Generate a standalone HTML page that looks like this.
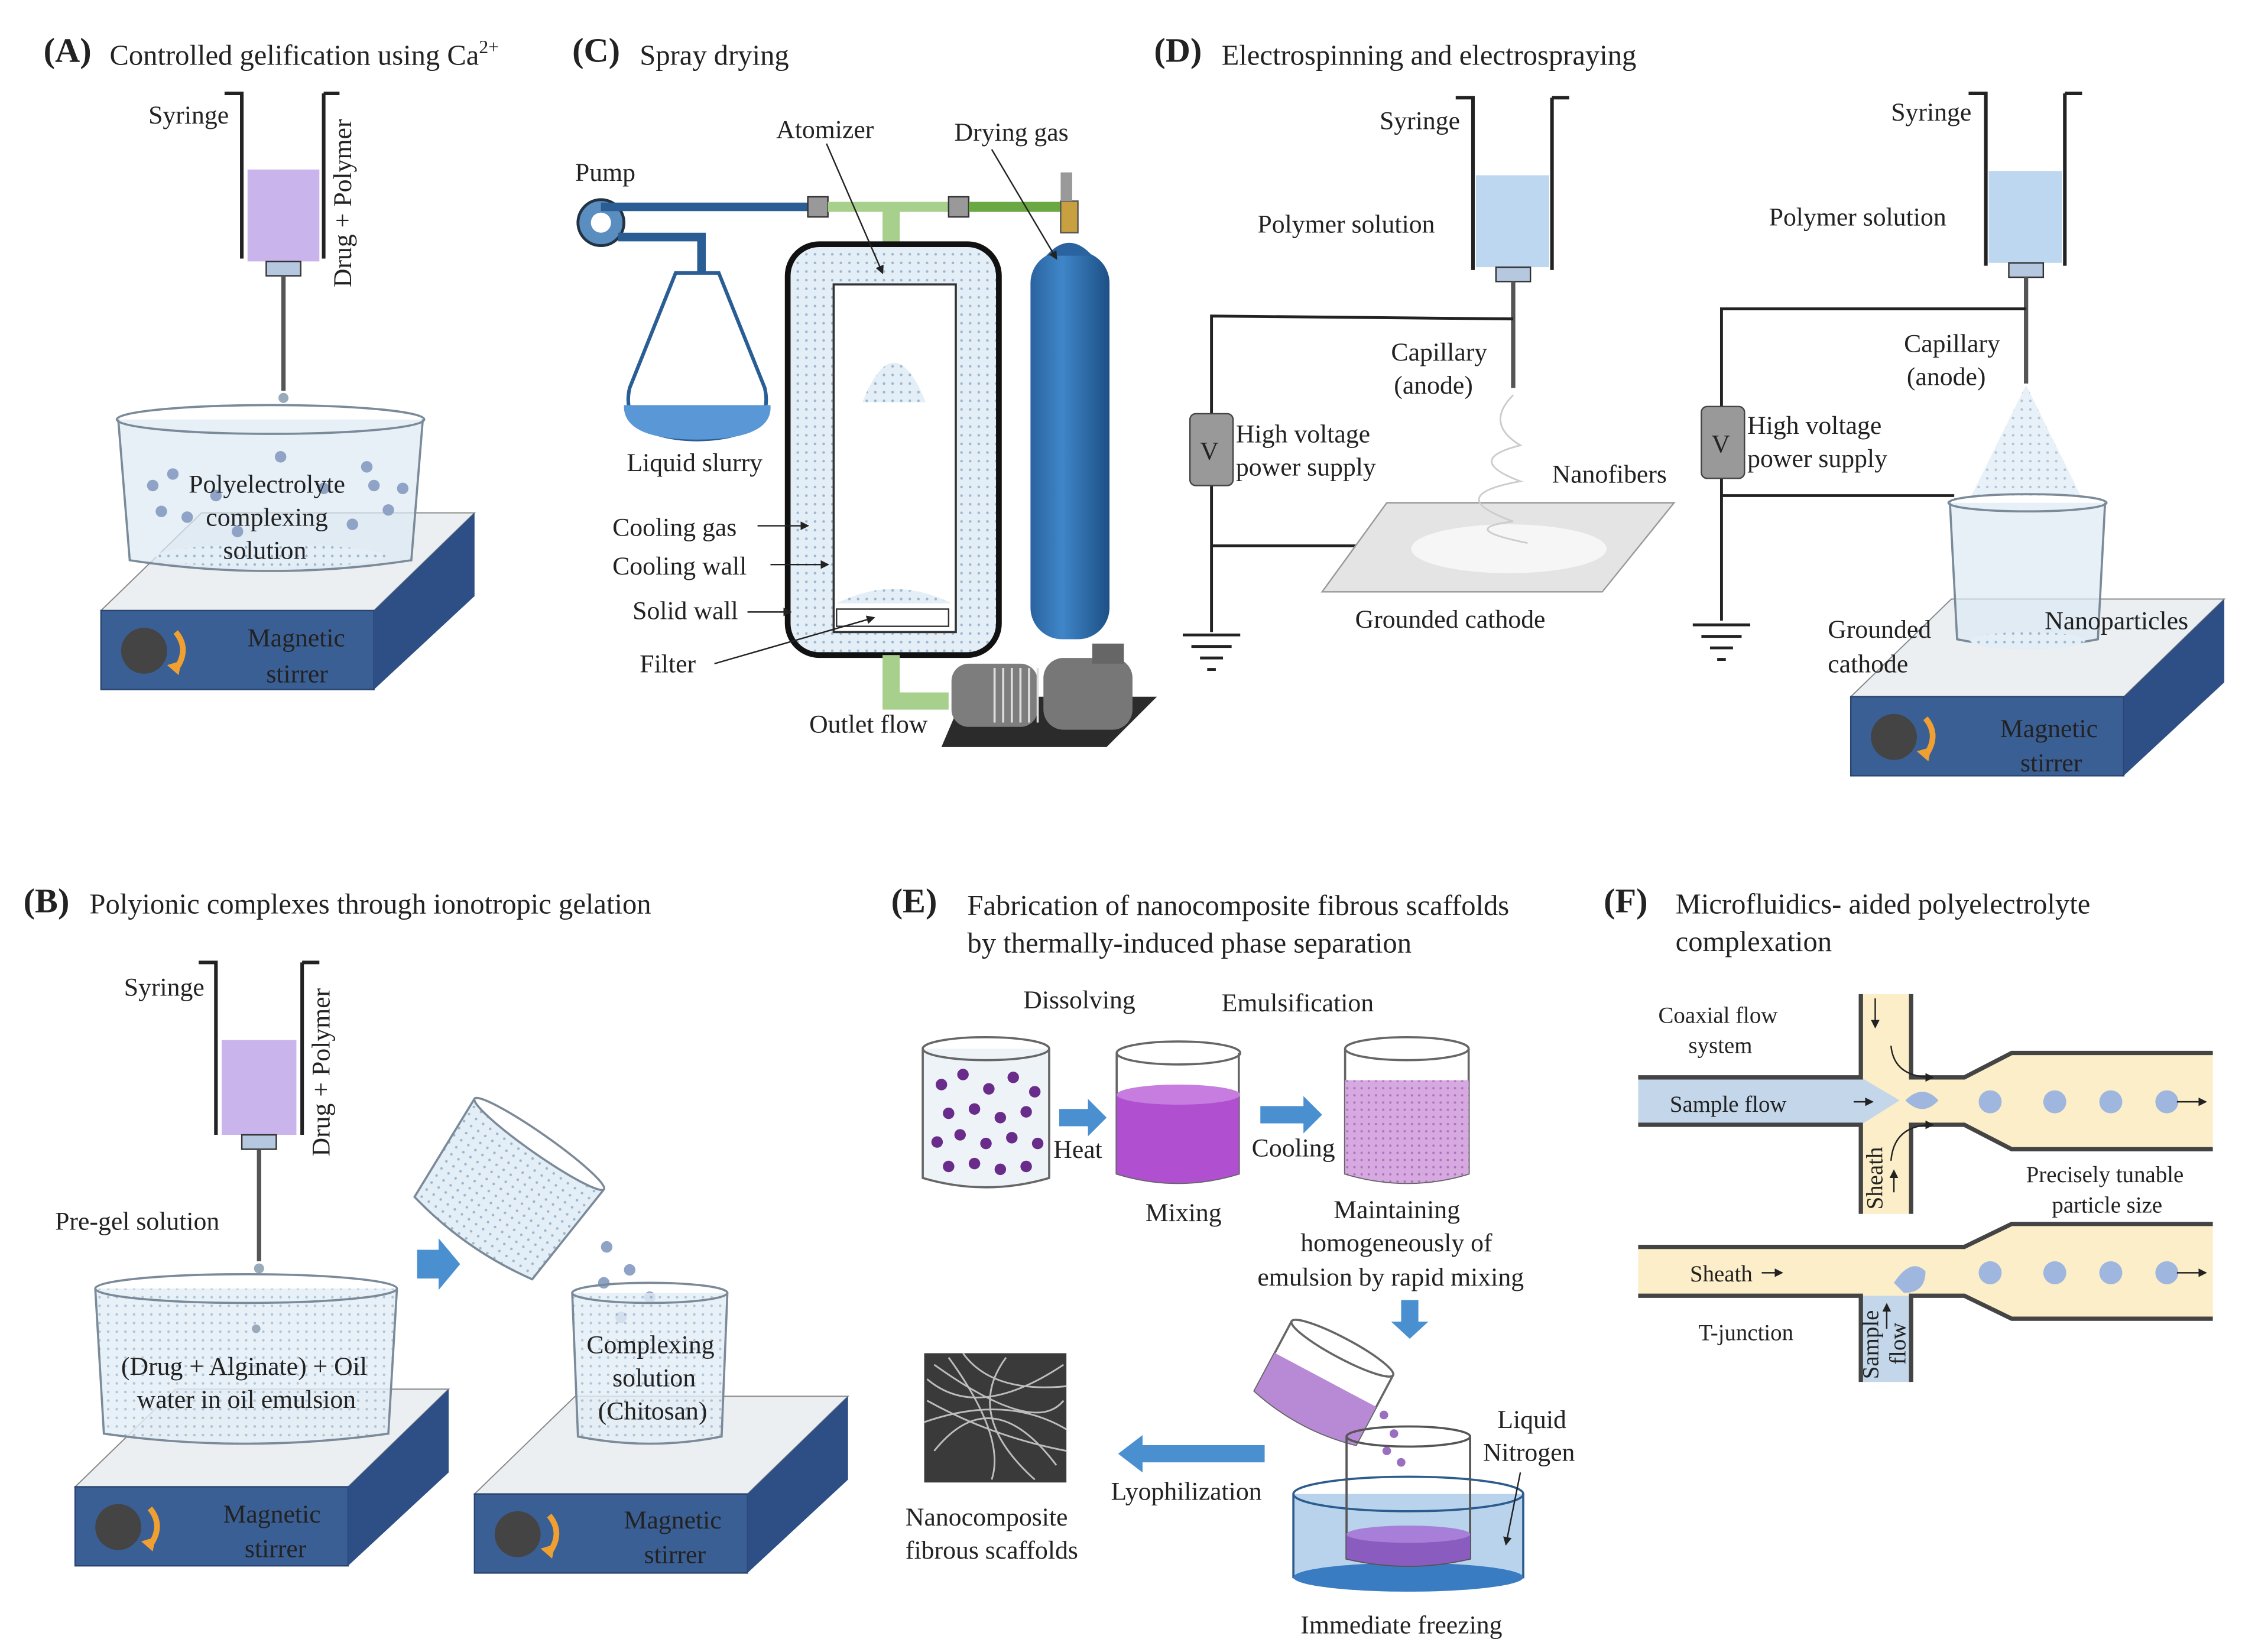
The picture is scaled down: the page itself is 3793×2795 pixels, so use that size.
<!DOCTYPE html>
<html><head><meta charset="utf-8"><style>
html,body{margin:0;padding:0;background:#fff;}
svg{display:block;}
text{font-family:"Liberation Serif",serif;fill:#222;}
</style></head><body>
<svg width="3793" height="2795" viewBox="0 0 1560 1150" xmlns="http://www.w3.org/2000/svg">
<defs>
<pattern id="dots" width="6" height="6" patternUnits="userSpaceOnUse"><rect width="6" height="6" fill="#e4eef6"/><circle cx="3" cy="3" r="0.9" fill="#9bb6cf"/></pattern>
<pattern id="pdots" width="5" height="5" patternUnits="userSpaceOnUse"><rect width="5" height="5" fill="#d6a9e0"/><circle cx="2.5" cy="2.5" r="0.8" fill="#b070c0"/></pattern>
<linearGradient id="cyl" x1="0" x2="1"><stop offset="0" stop-color="#2a63a0"/><stop offset="0.4" stop-color="#3f86c8"/><stop offset="1" stop-color="#1d4f85"/></linearGradient>
<marker id="ah" markerWidth="6" markerHeight="6" refX="5" refY="3" orient="auto"><path d="M0,0 L6,3 L0,6z" fill="#222"/></marker>
<g id="stir">
<polygon points="0,30 190,30 260,-38 70,-38" fill="#eceff2" stroke="#888" stroke-width="0.8"/>
<rect x="0" y="30" width="190" height="55" fill="#3a5f95" stroke="#2a4470"/>
<polygon points="190,30 260,-38 260,20 190,85" fill="#2d4f86"/>
<circle cx="30" cy="58" r="16" fill="#444"/>
<path d="M52,45 q10,12 0,26" stroke="#f0a030" stroke-width="4" fill="none"/>
<path d="M46,68 l8,7 l2,-10z" fill="#f0a030"/>
</g>
</defs>

<!-- ============ Panel A ============ -->
<text x="30" y="43" font-size="24" font-weight="bold">(A)</text>
<text x="76" y="45" font-size="20">Controlled gelification using Ca<tspan font-size="13" dy="-8">2+</tspan></text>
<text x="103" y="86" font-size="18">Syringe</text>
<path d="M156,65 H168 V180 M225,65 H236 M225,65 V180" stroke="#222" stroke-width="2.5" fill="none"/>
<rect x="172" y="118" width="50" height="64" fill="#c9b4ec"/>
<rect x="185" y="182" width="24" height="10" fill="#b5c8e0" stroke="#333"/>
<line x1="197" y1="192" x2="197" y2="272" stroke="#555" stroke-width="3"/>
<circle cx="197" cy="277" r="3.5" fill="#9ab"/>
<text transform="translate(244,200) rotate(-90)" font-size="18">Drug + Polymer</text>
<use href="#stir" x="70" y="395"/>
<text x="172" y="450" font-size="18">Magnetic</text><text x="185" y="475" font-size="18">stirrer</text>
<path d="M82,292 L90,390 Q188,405 286,390 L294,292" fill="#dde9f3" fill-opacity="0.7" stroke="#7b8a99" stroke-width="1.5"/>
<ellipse cx="188" cy="292" rx="107" ry="10" fill="none" stroke="#7b8a99" stroke-width="1.5"/>
<ellipse cx="188" cy="387" rx="80" ry="8" fill="url(#dots)"/>
<g fill="#8fa3c6">
<circle cx="106" cy="338" r="4"/><circle cx="120" cy="330" r="4"/><circle cx="112" cy="356" r="4"/><circle cx="150" cy="345" r="4"/><circle cx="130" cy="360" r="4"/><circle cx="260" cy="338" r="4"/><circle cx="270" cy="355" r="4"/><circle cx="245" cy="365" r="4"/><circle cx="255" cy="325" r="4"/><circle cx="195" cy="318" r="4"/><circle cx="225" cy="340" r="4"/><circle cx="280" cy="340" r="4"/><circle cx="165" cy="370" r="4"/></g>
<text x="131" y="343" font-size="18">Polyelectrolyte</text>
<text x="143" y="366" font-size="18">complexing</text>
<text x="155" y="389" font-size="18">solution</text>

<!-- ============ Panel C ============ -->
<text x="398" y="43" font-size="24" font-weight="bold">(C)</text>
<text x="445" y="45" font-size="20">Spray drying</text>
<text x="540" y="96" font-size="18">Atomizer</text>
<text x="664" y="98" font-size="18">Drying gas</text>
<text x="400" y="126" font-size="18">Pump</text>
<circle cx="418" cy="155" r="16" fill="#5a8ec0" stroke="#234" stroke-width="2"/>
<circle cx="418" cy="155" r="7" fill="#fff"/>
<path d="M418,144 H565" stroke="#2a5d94" stroke-width="6" fill="none"/>
<path d="M430,165 H488 V295" stroke="#2a5d94" stroke-width="6" fill="none"/>
<rect x="562" y="137" width="14" height="14" fill="#999" stroke="#333"/>
<path d="M576,144 H660" stroke="#a8d08d" stroke-width="7"/>
<rect x="660" y="137" width="14" height="14" fill="#999" stroke="#333"/>
<path d="M674,144 H740" stroke="#6aa843" stroke-width="7"/>
<path d="M620,144 V200" stroke="#a8d08d" stroke-width="12"/>
<path d="M614,200 L622,225 L628,200z" fill="#a8d08d"/>
<path d="M438,270 L470,190 L500,190 L532,270 Q540,305 485,306 Q430,305 438,270z" fill="#fff" stroke="#2a5d94" stroke-width="2.5"/>
<path d="M434,282 Q433,306 485,306 Q538,306 536,282z" fill="#5a97d6"/>
<rect x="548" y="170" width="147" height="286" rx="22" fill="url(#dots)" stroke="#111" stroke-width="4"/>
<rect x="580" y="198" width="85" height="242" fill="#fff" stroke="#333" stroke-width="1.5"/>
<path d="M600,280 Q622,225 644,280z" fill="url(#dots)"/>
<path d="M582,420 Q622,400 662,420z" fill="url(#dots)"/>
<rect x="582" y="424" width="78" height="12" fill="#fff" stroke="#333"/>
<path d="M620,456 V488 H660" stroke="#a8d08d" stroke-width="12" fill="none"/>
<rect x="717" y="175" width="55" height="270" rx="22" fill="url(#cyl)"/>
<path d="M728,178 Q744,160 760,178z" fill="#2a63a0"/>
<rect x="738" y="140" width="12" height="22" fill="#c8a040" stroke="#555"/>
<rect x="738" y="120" width="8" height="20" fill="#999"/>
<polygon points="670,485 805,485 770,520 655,520" fill="#2b2b2b"/>
<rect x="662" y="462" width="60" height="44" rx="12" fill="#7d7d7d"/>
<g stroke="#ddd" stroke-width="1.5"><line x1="692" y1="465" x2="692" y2="503"/><line x1="698" y1="465" x2="698" y2="503"/><line x1="704" y1="465" x2="704" y2="503"/><line x1="710" y1="465" x2="710" y2="503"/><line x1="716" y1="465" x2="716" y2="503"/><line x1="722" y1="465" x2="722" y2="503"/></g>
<rect x="726" y="458" width="62" height="50" rx="14" fill="#777"/>
<rect x="760" y="448" width="22" height="14" fill="#666"/>
<text x="436" y="328" font-size="18">Liquid slurry</text>
<text x="426" y="373" font-size="18">Cooling gas</text>
<text x="426" y="400" font-size="18">Cooling wall</text>
<text x="440" y="431" font-size="18">Solid wall</text>
<text x="445" y="468" font-size="18">Filter</text>
<text x="563" y="510" font-size="18">Outlet flow</text>
<g stroke="#222" stroke-width="1" fill="none" marker-end="url(#ah)">
<line x1="527" y1="366" x2="562" y2="366"/><line x1="536" y1="393" x2="576" y2="393"/><line x1="520" y1="426" x2="550" y2="426"/><line x1="497" y1="462" x2="608" y2="430"/><line x1="575" y1="100" x2="614" y2="190"/><line x1="690" y1="104" x2="735" y2="180"/></g>

<!-- ============ Panel D ============ -->
<text x="803" y="43" font-size="24" font-weight="bold">(D)</text>
<text x="850" y="45" font-size="20">Electrospinning and electrospraying</text>
<g id="synD">
<path d="M1013,68 H1025 V188 M1080,68 H1092 M1080,68 V188" stroke="#222" stroke-width="2.5" fill="none"/>
<rect x="1027" y="122" width="51" height="64" fill="#bcd7ef"/>
<rect x="1041" y="186" width="24" height="10" fill="#b5c8e0" stroke="#333"/>
<line x1="1053" y1="196" x2="1053" y2="270" stroke="#555" stroke-width="3"/>
</g>
<text x="960" y="90" font-size="18">Syringe</text>
<text x="875" y="162" font-size="18">Polymer solution</text>
<text x="968" y="251" font-size="18">Capillary</text><text x="970" y="274" font-size="18">(anode)</text>
<path d="M1053,222 L843,220 V440 M843,380 H945" stroke="#222" stroke-width="2" fill="none"/>
<rect x="828" y="288" width="30" height="50" rx="4" fill="#999" stroke="#444"/>
<text x="835" y="320" font-size="18" fill="#fff">V</text>
<path d="M823,442 H863 M829,450 H857 M835,458 H851 M840,466 H846" stroke="#222" stroke-width="2"/>
<text x="860" y="308" font-size="18">High voltage</text><text x="860" y="331" font-size="18">power supply</text>
<polygon points="920,412 1115,412 1165,350 965,350" fill="#e4e4e4" stroke="#999"/>
<ellipse cx="1050" cy="382" rx="68" ry="17" fill="#f6f6f6"/>
<path d="M1053,275 q-20,20 5,35 q-40,10 0,25 q-55,10 -5,28 q-40,5 10,15" stroke="#ccc" stroke-width="1.2" fill="none"/>
<text x="1080" y="336" font-size="18">Nanofibers</text>
<text x="943" y="437" font-size="18">Grounded cathode</text>

<use href="#synD" x="357" y="-3"/>
<text x="1316" y="84" font-size="18">Syringe</text>
<text x="1231" y="157" font-size="18">Polymer solution</text>
<text x="1325" y="245" font-size="18">Capillary</text><text x="1327" y="268" font-size="18">(anode)</text>
<path d="M1410,215 L1198,215 V432 M1198,345 H1360" stroke="#222" stroke-width="2" fill="none"/>
<rect x="1184" y="283" width="30" height="50" rx="4" fill="#999" stroke="#444"/>
<text x="1191" y="315" font-size="18" fill="#fff">V</text>
<path d="M1178,435 H1218 M1184,443 H1212 M1190,451 H1206 M1195,459 H1201" stroke="#222" stroke-width="2"/>
<text x="1216" y="302" font-size="18">High voltage</text><text x="1216" y="325" font-size="18">power supply</text>
<path d="M1410,268 L1372,345 L1448,345z" fill="url(#dots)" opacity="0.8"/>
<use href="#stir" x="1288" y="455"/>
<text x="1392" y="513" font-size="18">Magnetic</text><text x="1406" y="537" font-size="18">stirrer</text>
<path d="M1357,350 L1362,445 Q1410,455 1460,445 L1465,350" fill="#dde9f3" fill-opacity="0.7" stroke="#7b8a99" stroke-width="1.5"/>
<ellipse cx="1411" cy="350" rx="55" ry="6" fill="none" stroke="#7b8a99" stroke-width="1.5"/>
<ellipse cx="1411" cy="446" rx="40" ry="6" fill="url(#dots)"/>
<text x="1272" y="444" font-size="18">Grounded</text><text x="1272" y="468" font-size="18">cathode</text>
<text x="1423" y="438" font-size="18">Nanoparticles</text>

<!-- ============ Panel B ============ -->
<text x="16" y="635" font-size="24" font-weight="bold">(B)</text>
<text x="62" y="636" font-size="20">Polyionic complexes through ionotropic gelation</text>
<text x="86" y="693" font-size="18">Syringe</text>
<path d="M138,670 H150 V790 M210,670 H222 M210,670 V790" stroke="#222" stroke-width="2.5" fill="none"/>
<rect x="154" y="724" width="52" height="66" fill="#c9b4ec"/>
<rect x="168" y="790" width="24" height="10" fill="#b5c8e0" stroke="#333"/>
<line x1="180" y1="800" x2="180" y2="878" stroke="#555" stroke-width="3"/>
<circle cx="180" cy="883" r="3.5" fill="#9ab"/>
<text transform="translate(229,805) rotate(-90)" font-size="18">Drug + Polymer</text>
<text x="38" y="856" font-size="18">Pre-gel solution</text>
<use href="#stir" x="52" y="1005"/>
<text x="155" y="1060" font-size="18">Magnetic</text><text x="170" y="1084" font-size="18">stirrer</text>
<path d="M66,897 L72,998 Q170,1012 270,998 L276,897" fill="url(#dots)" fill-opacity="0.8" stroke="#7b8a99" stroke-width="1.5"/>
<ellipse cx="171" cy="897" rx="105" ry="10" fill="none" stroke="#7b8a99" stroke-width="1.5"/>
<circle cx="178" cy="925" r="3" fill="#9ab"/>
<text x="84" y="957" font-size="18">(Drug + Alginate) + Oil</text>
<text x="95" y="980" font-size="18">water in oil emulsion</text>
<polygon points="290,870 305,870 305,862 320,880 305,898 305,890 290,890" fill="#4a90d0"/>
<g transform="rotate(35 355 825)">
<path d="M300,790 L305,870 Q355,880 405,870 L410,790" fill="url(#dots)" stroke="#7b8a99" stroke-width="1.5"/>
<ellipse cx="355" cy="790" rx="55" ry="7" fill="#fff" stroke="#7b8a99" stroke-width="1.5"/>
</g>
<g fill="#8fa3c6"><circle cx="422" cy="868" r="4"/><circle cx="438" cy="884" r="4"/><circle cx="420" cy="893" r="4"/><circle cx="452" cy="903" r="4"/><circle cx="432" cy="917" r="4"/></g>
<use href="#stir" x="330" y="1010"/>
<text x="434" y="1064" font-size="18">Magnetic</text><text x="448" y="1088" font-size="18">stirrer</text>
<path d="M398,900 L402,1000 Q452,1010 502,1000 L506,900" fill="url(#dots)" fill-opacity="0.8" stroke="#7b8a99" stroke-width="1.5"/>
<ellipse cx="452" cy="900" rx="54" ry="7" fill="none" stroke="#7b8a99" stroke-width="1.5"/>
<text x="408" y="942" font-size="18">Complexing</text><text x="426" y="965" font-size="18">solution</text><text x="416" y="988" font-size="18">(Chitosan)</text>

<!-- ============ Panel E ============ -->
<text x="620" y="635" font-size="24" font-weight="bold">(E)</text>
<text x="673" y="637" font-size="20">Fabrication of nanocomposite fibrous scaffolds</text>
<text x="673" y="663" font-size="20">by thermally-induced phase separation</text>
<text x="712" y="702" font-size="18">Dissolving</text>
<text x="850" y="704" font-size="18">Emulsification</text>
<path d="M642,730 V820 Q686,833 730,820 V730" fill="#eef3f8" stroke="#666" stroke-width="1.5"/>
<ellipse cx="686" cy="730" rx="44" ry="8" fill="none" stroke="#666" stroke-width="1.5"/>
<g fill="#6a2c8a">
<circle cx="655" cy="755" r="4"/><circle cx="670" cy="748" r="4"/><circle cx="688" cy="758" r="4"/><circle cx="705" cy="750" r="4"/><circle cx="720" cy="760" r="4"/><circle cx="660" cy="775" r="4"/><circle cx="678" cy="772" r="4"/><circle cx="696" cy="778" r="4"/><circle cx="714" cy="774" r="4"/><circle cx="652" cy="795" r="4"/><circle cx="668" cy="790" r="4"/><circle cx="686" cy="796" r="4"/><circle cx="704" cy="792" r="4"/><circle cx="722" cy="796" r="4"/><circle cx="660" cy="812" r="4"/><circle cx="678" cy="810" r="4"/><circle cx="696" cy="814" r="4"/><circle cx="714" cy="812" r="4"/></g>
<polygon points="737,772 757,772 757,765 770,778 757,791 757,784 737,784" fill="#4a90d0"/>
<text x="733" y="806" font-size="18">Heat</text>
<path d="M777,733 V817 Q820,830 862,817 V733" fill="#fff" stroke="#666" stroke-width="1.5"/>
<path d="M777,762 V817 Q820,830 862,817 V762z" fill="#b04fd0"/>
<ellipse cx="820" cy="762" rx="43" ry="7" fill="#c77de0"/>
<ellipse cx="820" cy="733" rx="43" ry="8" fill="none" stroke="#666" stroke-width="1.5"/>
<text x="797" y="850" font-size="18">Mixing</text>
<polygon points="877,770 907,770 907,763 920,776 907,789 907,782 877,782" fill="#4a90d0"/>
<text x="871" y="805" font-size="18">Cooling</text>
<path d="M936,730 V817 Q980,830 1022,817 V730" fill="#fff" stroke="#666" stroke-width="1.5"/>
<path d="M936,752 V817 Q980,830 1022,817 V752z" fill="url(#pdots)"/>
<ellipse cx="979" cy="730" rx="43" ry="8" fill="none" stroke="#666" stroke-width="1.5"/>
<text x="928" y="848" font-size="18">Maintaining</text>
<text x="905" y="871" font-size="18">homogeneously of</text>
<text x="875" y="895" font-size="18">emulsion by rapid mixing</text>
<polygon points="975,905 987,905 987,920 994,920 981,932 968,920 975,920" fill="#4a90d0"/>
<g transform="rotate(28 920 965)">
<path d="M880,935 V990 Q920,1000 960,990 V935" fill="#fff" stroke="#666" stroke-width="1.5"/>
<path d="M880,960 V990 Q920,1000 960,990 V960z" fill="#b88ad6"/>
<ellipse cx="920" cy="935" rx="40" ry="7" fill="none" stroke="#666" stroke-width="1.5"/>
</g>
<g fill="#9a6fc0"><circle cx="963" cy="985" r="3"/><circle cx="970" cy="998" r="3"/><circle cx="965" cy="1010" r="3"/><circle cx="975" cy="1018" r="3"/></g>
<path d="M900,1040 V1098 Q980,1115 1060,1098 V1040" fill="#b9d3ec" stroke="#2c5c8e" stroke-width="1.5"/>
<ellipse cx="980" cy="1098" rx="80" ry="10" fill="#3a7cc2"/>
<ellipse cx="980" cy="1040" rx="80" ry="12" fill="none" stroke="#2c5c8e" stroke-width="1.5"/>
<path d="M937,1000 V1085 Q980,1095 1023,1085 V1000" fill="none" stroke="#555" stroke-width="1.5"/>
<path d="M937,1068 V1085 Q980,1095 1023,1085 V1068z" fill="#8a5cc0"/>
<ellipse cx="980" cy="1068" rx="43" ry="6" fill="#a77fd8"/>
<ellipse cx="980" cy="1000" rx="43" ry="7" fill="none" stroke="#555" stroke-width="1.5"/>
<text x="1042" y="994" font-size="18">Liquid</text><text x="1032" y="1017" font-size="18">Nitrogen</text>
<line x1="1058" y1="1025" x2="1048" y2="1075" stroke="#222" stroke-width="1" marker-end="url(#ah)"/>
<text x="905" y="1137" font-size="18">Immediate freezing</text>
<polygon points="880,1006 795,1006 795,999 778,1012 795,1025 795,1018 880,1018" fill="#4a90d0"/>
<text x="773" y="1044" font-size="18">Lyophilization</text>
<rect x="643" y="942" width="99" height="90" fill="#3a3a3a"/>
<path d="M645,960 Q680,990 740,950 M650,1010 Q690,960 735,1020 M660,945 Q700,1000 690,1030 M643,990 Q700,970 742,995 M700,945 Q670,985 720,1030 M650,950 Q720,1000 740,975 M645,975 Q690,1000 742,1010 M670,942 Q690,970 742,965" stroke="#bdbdbd" stroke-width="1.2" fill="none"/>
<text x="630" y="1062" font-size="18">Nanocomposite</text><text x="630" y="1085" font-size="18">fibrous scaffolds</text>

<!-- ============ Panel F ============ -->
<text x="1116" y="635" font-size="24" font-weight="bold">(F)</text>
<text x="1166" y="636" font-size="20">Microfluidics- aided polyelectrolyte</text>
<text x="1166" y="662" font-size="20">complexation</text>
<text x="1154" y="712" font-size="16">Coaxial flow</text><text x="1175" y="733" font-size="16">system</text>
<path d="M1295,692 H1330 V750 H1367 L1400,733 H1540 V800 H1400 L1367,783 H1330 V845 H1295 V783 H1140 V750 H1295z" fill="#fbeec8"/>
<rect x="1140" y="750" width="155" height="33" fill="#c3d6ea"/>
<path d="M1295,750 L1322,766 L1295,783z" fill="#c3d6ea"/>
<path d="M1140,750 H1295 V692 M1330,692 V750 H1367 L1400,733 H1540 M1140,783 H1295 V845 M1330,845 V783 H1367 L1400,800 H1540" stroke="#444" stroke-width="3" fill="none"/>
<path d="M1326,766 Q1338,754 1349,766 Q1338,778 1326,766z" fill="#9fb6df"/>
<g fill="#9fb6df"><circle cx="1385" cy="767" r="8"/><circle cx="1430" cy="767" r="8"/><circle cx="1469" cy="767" r="8"/><circle cx="1508" cy="767" r="8"/></g>
<text x="1162" y="774" font-size="16">Sample flow</text>
<g stroke="#222" stroke-width="1" fill="none" marker-end="url(#ah)"><line x1="1290" y1="767" x2="1303" y2="767"/><line x1="1515" y1="767" x2="1535" y2="767"/><line x1="1305" y1="695" x2="1305" y2="715"/><line x1="1318" y1="830" x2="1318" y2="815"/><path d="M1316,728 Q1318,750 1345,750"/><path d="M1316,808 Q1318,783 1345,783"/></g>
<text transform="translate(1310,842) rotate(-90)" font-size="16">Sheath</text>
<text x="1410" y="823" font-size="16">Precisely tunable</text><text x="1428" y="844" font-size="16">particle size</text>
<path d="M1140,868 H1367 L1400,852 H1540 V918 H1400 L1367,902 H1330 V962 H1295 V902 H1140z" fill="#fbeec8"/>
<path d="M1295,902 H1330 V962 H1295z" fill="#c3d6ea"/>
<path d="M1140,868 H1367 L1400,852 H1540 M1140,902 H1295 V962 M1330,962 V902 H1367 L1400,918 H1540" stroke="#444" stroke-width="3" fill="none"/>
<path d="M1318,893 Q1330,875 1340,885 Q1340,900 1325,900z" fill="#9fb6df"/>
<g fill="#9fb6df"><circle cx="1385" cy="886" r="8"/><circle cx="1430" cy="886" r="8"/><circle cx="1469" cy="886" r="8"/><circle cx="1508" cy="886" r="8"/></g>
<text x="1176" y="892" font-size="16">Sheath</text>
<g stroke="#222" stroke-width="1" fill="none" marker-end="url(#ah)"><line x1="1226" y1="886" x2="1240" y2="886"/><line x1="1515" y1="886" x2="1535" y2="886"/><line x1="1313" y1="925" x2="1313" y2="908"/></g>
<text transform="translate(1307,960) rotate(-90)" font-size="16">Sample</text>
<text transform="translate(1326,950) rotate(-90)" font-size="16">flow</text>
<text x="1182" y="933" font-size="16">T-junction</text>
</svg>
</body></html>
